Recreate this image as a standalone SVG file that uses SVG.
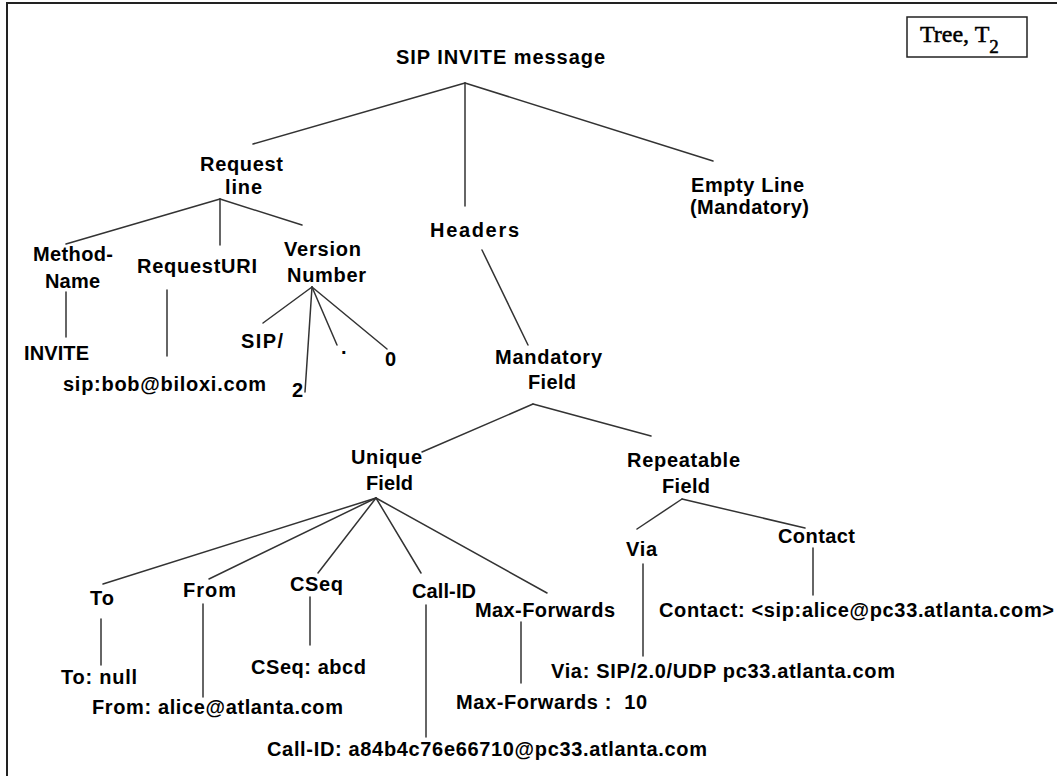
<svg xmlns="http://www.w3.org/2000/svg" width="1057" height="776" viewBox="0 0 1057 776">
  <style>
    .lbl { font-family: "Liberation Sans", Arial, sans-serif; font-weight: bold; font-size: 20px; fill: #000; }
    .edge { stroke: #333; stroke-width: 1.5; fill: none; stroke-linecap: round; }
    .frame { stroke: #222; stroke-width: 2; fill: none; }
    .legend { font-family: "Liberation Serif", "Times New Roman", serif; fill: #000; stroke: #000; stroke-width: 0.5; }
  </style>
  <rect width="1057" height="776" fill="#fff"/>

  <!-- page frame: top and left rules -->
  <path class="frame" d="M7,776 V3 H1057"/>

  <!-- legend box -->
  <g id="legend">
    <rect x="907" y="17" width="120" height="40" fill="#fff" stroke="#222" stroke-width="1.5"/>
    <text class="legend" x="920" y="42" font-size="24">Tree, T<tspan font-size="19" dy="11">2</tspan></text>
  </g>

  <!-- connectors -->
  <g id="connectors">
    <line class="edge" x1="465" y1="83" x2="253" y2="144"/>
    <line class="edge" x1="465" y1="83" x2="465" y2="206"/>
    <line class="edge" x1="465" y1="83" x2="713" y2="161"/>

    <line class="edge" x1="220" y1="199" x2="66" y2="244"/>
    <line class="edge" x1="220" y1="199" x2="220" y2="245"/>
    <line class="edge" x1="220" y1="199" x2="302" y2="225"/>

    <line class="edge" x1="66" y1="292" x2="66" y2="337"/>
    <line class="edge" x1="167" y1="290" x2="167" y2="356"/>

    <line class="edge" x1="312" y1="287" x2="263" y2="323"/>
    <line class="edge" x1="312" y1="287" x2="305" y2="392"/>
    <line class="edge" x1="312" y1="287" x2="337" y2="345"/>
    <line class="edge" x1="312" y1="287" x2="387" y2="349"/>

    <line class="edge" x1="482" y1="250" x2="528" y2="345"/>

    <line class="edge" x1="533" y1="404" x2="422" y2="452"/>
    <line class="edge" x1="533" y1="404" x2="651" y2="436"/>

    <line class="edge" x1="376" y1="498" x2="103" y2="584"/>
    <line class="edge" x1="376" y1="498" x2="209" y2="579"/>
    <line class="edge" x1="376" y1="498" x2="318" y2="573"/>
    <line class="edge" x1="376" y1="498" x2="421" y2="573"/>
    <line class="edge" x1="376" y1="498" x2="547" y2="593"/>

    <line class="edge" x1="682" y1="499" x2="637" y2="529"/>
    <line class="edge" x1="682" y1="499" x2="805" y2="528"/>

    <line class="edge" x1="101" y1="619" x2="101" y2="665"/>
    <line class="edge" x1="203" y1="604" x2="203" y2="697"/>
    <line class="edge" x1="310" y1="597" x2="310" y2="645"/>
    <line class="edge" x1="426" y1="605" x2="426" y2="737"/>
    <line class="edge" x1="521" y1="622" x2="521" y2="683"/>
    <line class="edge" x1="643" y1="564" x2="643" y2="656"/>
    <line class="edge" x1="813" y1="548" x2="813" y2="595"/>
  </g>

  <!-- tree nodes -->
  <g id="root"><text class="lbl" x="396" y="64" textLength="209">SIP INVITE message</text></g>
  <g id="request-line">
    <text class="lbl" x="200" y="171" textLength="83">Request</text>
    <text class="lbl" x="225" y="194" textLength="37">line</text>
  </g>
  <g id="headers"><text class="lbl" x="430" y="237" textLength="89">Headers</text></g>
  <g id="empty-line">
    <text class="lbl" x="691" y="192" textLength="113">Empty Line</text>
    <text class="lbl" x="690" y="214" textLength="119">(Mandatory)</text>
  </g>

  <g id="method-name">
    <text class="lbl" x="33" y="261" textLength="80">Method-</text>
    <text class="lbl" x="45" y="288" textLength="55">Name</text>
  </g>
  <g id="request-uri"><text class="lbl" x="137" y="273" textLength="120">RequestURI</text></g>
  <g id="version-number">
    <text class="lbl" x="284" y="256" textLength="77">Version</text>
    <text class="lbl" x="287" y="282" textLength="79">Number</text>
  </g>
  <g id="invite"><text class="lbl" x="24" y="360" textLength="65">INVITE</text></g>
  <g id="uri-value"><text class="lbl" x="63" y="391" textLength="203">sip:bob@biloxi.com</text></g>
  <g id="ver-sip"><text class="lbl" x="241" y="348" textLength="42">SIP/</text></g>
  <g id="ver-dot"><text class="lbl" x="341" y="354">.</text></g>
  <g id="ver-zero"><text class="lbl" x="385" y="366">0</text></g>
  <g id="ver-two"><text class="lbl" x="292" y="397">2</text></g>

  <g id="mandatory-field">
    <text class="lbl" x="495" y="364" textLength="107">Mandatory</text>
    <text class="lbl" x="528" y="389" textLength="48">Field</text>
  </g>
  <g id="unique-field">
    <text class="lbl" x="351" y="464" textLength="71">Unique</text>
    <text class="lbl" x="366" y="490" textLength="47">Field</text>
  </g>
  <g id="repeatable-field">
    <text class="lbl" x="627" y="467" textLength="113">Repeatable</text>
    <text class="lbl" x="662" y="493" textLength="48">Field</text>
  </g>

  <g id="to"><text class="lbl" x="90" y="605" textLength="24">To</text></g>
  <g id="from"><text class="lbl" x="183" y="597" textLength="53">From</text></g>
  <g id="cseq"><text class="lbl" x="290" y="591" textLength="53">CSeq</text></g>
  <g id="call-id"><text class="lbl" x="412" y="598" textLength="64">Call-ID</text></g>
  <g id="max-forwards"><text class="lbl" x="475" y="617" textLength="140">Max-Forwards</text></g>
  <g id="via"><text class="lbl" x="626" y="556" textLength="31">Via</text></g>
  <g id="contact"><text class="lbl" x="778" y="543" textLength="77">Contact</text></g>

  <g id="to-value"><text class="lbl" x="61" y="684" textLength="76">To: null</text></g>
  <g id="from-value"><text class="lbl" x="92" y="714" textLength="251">From: alice@atlanta.com</text></g>
  <g id="cseq-value"><text class="lbl" x="251" y="674" textLength="115">CSeq: abcd</text></g>
  <g id="call-id-value"><text class="lbl" x="267" y="756" textLength="440">Call-ID: a84b4c76e66710@pc33.atlanta.com</text></g>
  <g id="max-forwards-value"><text class="lbl" x="456" y="709" textLength="191" xml:space="preserve">Max-Forwards :  10</text></g>
  <g id="via-value"><text class="lbl" x="551" y="678" textLength="344">Via: SIP/2.0/UDP pc33.atlanta.com</text></g>
  <g id="contact-value"><text class="lbl" x="659" y="617" textLength="395">Contact: &lt;sip:alice@pc33.atlanta.com&gt;</text></g>
</svg>
